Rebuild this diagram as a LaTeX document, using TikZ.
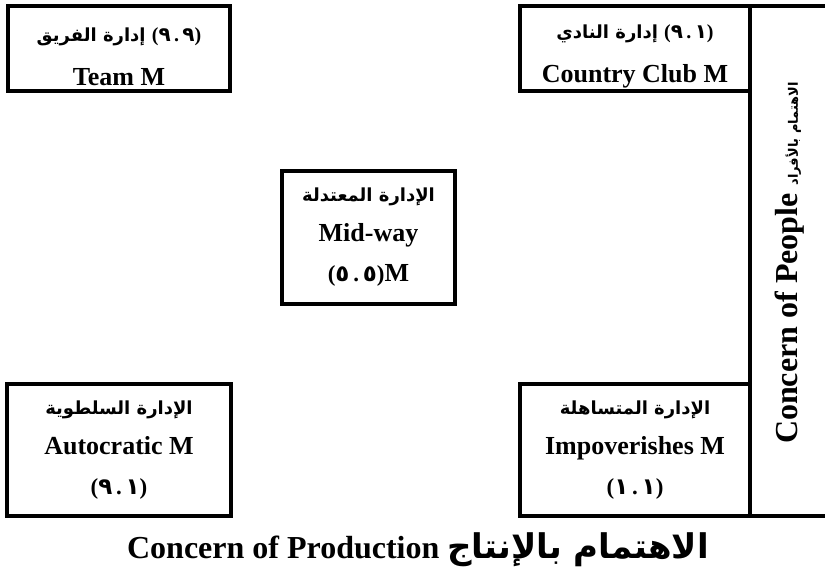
\documentclass[tikz,border=0pt]{standalone}
\usepackage{fontspec}
\setmainfont{Liberation Serif}
\newfontfamily\arabicfont[Script=Arabic]{DejaVu Sans}
\TeXXeTstate=1
\usepackage{tikz}
\usetikzlibrary{positioning}
\newcommand{\artext}[2][18]{{\arabicfont\bfseries\fontsize{#1}{40}\selectfont\beginR #2\endR}}
\newcommand{\ard}[2]{{\arabicfont\bfseries\fontsize{#1}{40}\selectfont #2}}
\newcommand{\arnum}[3][20]{{\rmfamily\bfseries\fontsize{#1}{40}\selectfont(\ard{#1}{#2}\,.\,\ard{#1}{#3})}}

\begin{document}
\begin{tikzpicture}[x=1pt, y=-1pt,
  box/.style={draw, line width=4pt, inner sep=0pt, outer sep=0pt, align=center,
              font=\bfseries\fontsize{26}{40}\selectfont},
  frame/.style={line width=4pt},
  axislabel/.style={font=\bfseries\fontsize{32}{36}\selectfont, inner sep=0pt},
]
\useasboundingbox (0,0) rectangle (825,578);
\node[box, minimum width=222pt, minimum height=85pt] (team) at (119,48.5)
  {\rule{0pt}{30pt}\artext{\beginL\arnum{٩}{٩}\endL{} إدارة الفريق}\\[4pt]Team M};
\node[box, minimum width=230pt, minimum height=85pt] (club) at (635,48.5)
  {\rule{0pt}{30pt}\artext{\beginL\arnum{٩}{١}\endL{} إدارة النادي}\\[4pt]Country Club M};
\node[box, minimum width=173pt, minimum height=133pt] (mid) at (368.5,237.5)
  {\artext{الإدارة المعتدلة}\\Mid-way\\\arnum[23]{٥}{٥}M};
\node[box, minimum width=224pt, minimum height=132pt] (auto) at (119,450)
  {\artext{الإدارة السلطوية}\\Autocratic M\\\arnum[23]{٩}{١}};
\node[box, minimum width=230pt, minimum height=132pt] (imp) at (635,450)
  {\artext{الإدارة المتساهلة}\\Impoverishes M\\\arnum[23]{١}{١}};

\coordinate (rtop) at (830,6);
\coordinate (rbot) at (830,516);
\draw[frame] (club.north east) -- (imp.south east);
\draw[frame] (club.north east) -- (rtop);
\draw[frame] (imp.south east) -- (rbot);

\node[axislabel, rotate=90] (people) at (790,263)
  {Concern of People \artext[13]{الاهتمام بالأفراد}};
\node[axislabel, anchor=base] (production) at (418,558)
  {Concern of Production \artext[34]{الاهتمام بالإنتاج}};
\end{tikzpicture}
\end{document}
